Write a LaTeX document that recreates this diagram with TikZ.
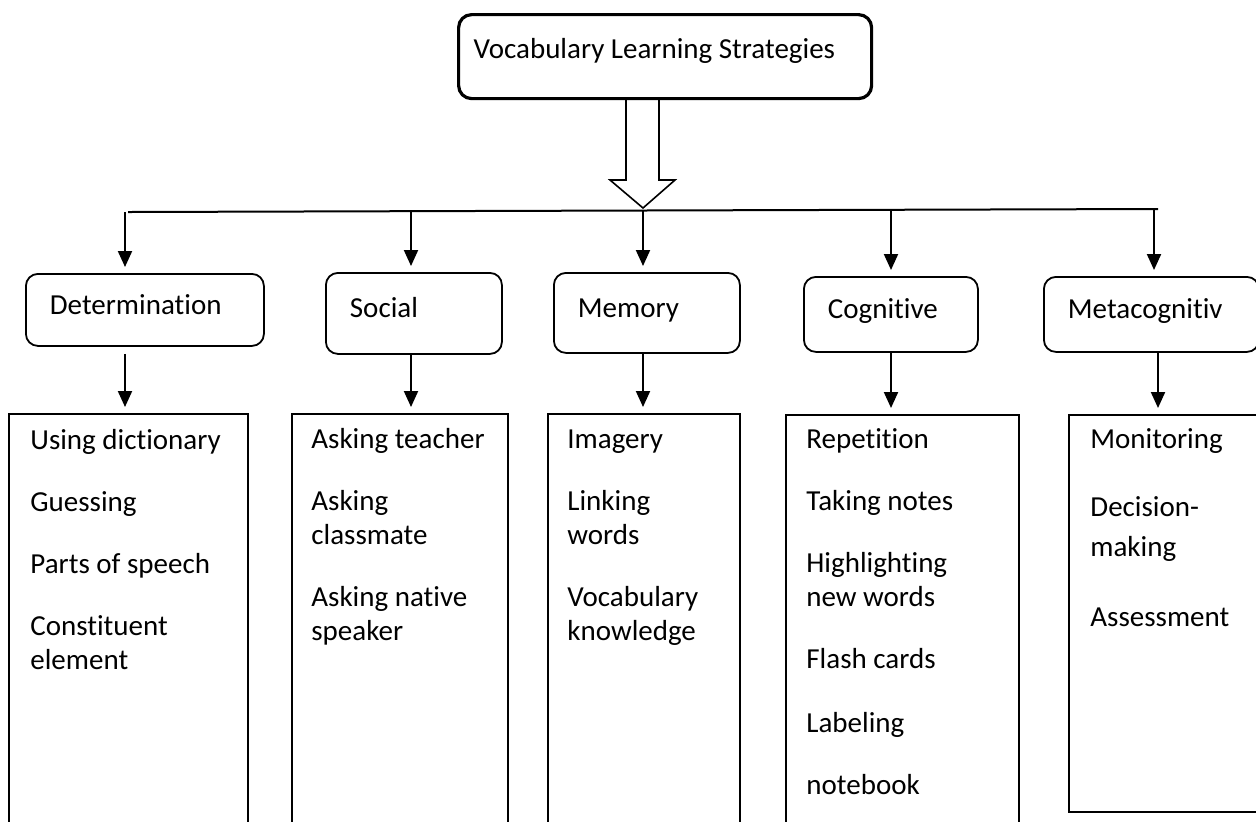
\documentclass[tikz,border=0pt]{standalone}
\usepackage{fontspec}
\setmainfont{Carlito}[Ligatures=NoCommon]
\usetikzlibrary{arrows.meta}

\begin{document}
\begin{tikzpicture}[
  x=0.5pt, y=-0.5pt,
  font=\fontsize{14.5pt}{17pt}\selectfont,
  >={Triangle[width=7pt,length=8pt]},
  tb/.style={draw, line width=1.6pt, rounded corners=6.5pt, anchor=north west,
             align=flush left, inner xsep=7.5pt, text depth=8.5pt},
  cb/.style={draw, line width=0.9pt, rounded corners=6pt, anchor=north west,
             align=flush left, inner xsep=12pt, text height=10.5pt, text depth=6pt},
  lb/.style={draw, line width=0.9pt, anchor=north west, inner sep=0pt},
  lt/.style={anchor=base west, align=flush left, inner sep=0pt, text width=110pt},
  ar/.style={->, line width=1pt, shorten >=3pt},
]
\useasboundingbox (0,0) rectangle (1256,821);
\clip (0,0) rectangle (1256,821);

% top
\node[tb, minimum width=206.5pt, minimum height=42pt, text width=191.5pt] (vls) at (457,13)
  {Vocabulary Learning Strategies};
\draw[line width=0.8pt] (626,97) |- (610,180) -- (643,208) -- (675,180) -| (659,97);

% bar
\coordinate (bL) at (128,212);
\coordinate (bR) at (1158,209);
\coordinate (b1) at (125,212);
\coordinate (b2) at (411,212);
\coordinate (b3) at (643,211);
\coordinate (b4) at (891,210);
\coordinate (b5) at (1154,209);
\draw[line width=1pt] (bL) -- (bR);

% categories
\node[cb, text width=95pt, minimum height=36pt] (det) at (25,273) {Determination};
\node[cb, text width=64pt, minimum height=40.5pt] (soc) at (325,272) {Social};
\node[cb, text width=69pt, minimum height=40pt] (mem) at (553,272) {Memory};
\node[cb, text width=63pt, minimum height=37.5pt] (cog) at (803,276) {Cognitive};
\node[cb, text width=83.5pt, minimum height=37.5pt] (met) at (1043,276) {Metacognitiv};

\draw[ar] (b1) -- (b1 |- det.north);
\draw[ar] (b2) -- (b2 |- soc.north);
\draw[ar] (b3) -- (b3 |- mem.north);
\draw[ar] (b4) -- (b4 |- cog.north);
\draw[ar] (b5) -- (b5 |- met.north);

% lists
\node[lb, minimum width=119.5pt, minimum height=215pt] (detL) at (8,413) {};
\node[lb, minimum width=108pt, minimum height=215pt] (socL) at (291,413) {};
\node[lb, minimum width=96pt, minimum height=215pt] (memL) at (547,413) {};
\node[lb, minimum width=116.5pt, minimum height=215pt] (cogL) at (785,414) {};
\node[lb, minimum width=100pt, minimum height=198.5pt] (metL) at (1068,414) {};

\draw[ar, shorten <=3.5pt] (det.south -| b1) -- (detL.north -| b1);
\draw[ar] (soc.south -| b2) -- (socL.north -| b2);
\draw[ar] (mem.south -| b3) -- (memL.north -| b3);
\draw[ar] (cog.south -| b4) -- (cogL.north -| b4);
\draw[ar] (met.south -| bR) -- (metL.north -| bR);

\node[lt] (detT) at (30,449)
  {Using dictionary\\[14pt]Guessing\\[14pt]Parts of speech\\[14pt]Constituent\\element};
\node[lt] (socT) at (311,448)
  {Asking teacher\\[14pt]Asking\\classmate\\[14pt]Asking native\\speaker};
\node[lt] (memT) at (567,448)
  {Imagery\\[14pt]Linking\\words\\[14pt]Vocabulary\\knowledge};
\node[lt] (cogT) at (806,448)
  {Repetition\\[14pt]Taking notes\\[14pt]Highlighting\\new words\\[14pt]Flash cards\\[15pt]Labeling\\[14pt]notebook};
\node[lt] (metT) at (1090,448)
  {Monitoring\\[17pt]Decision-\\[3pt]making\\[18pt]Assessment};
\end{tikzpicture}
\end{document}
